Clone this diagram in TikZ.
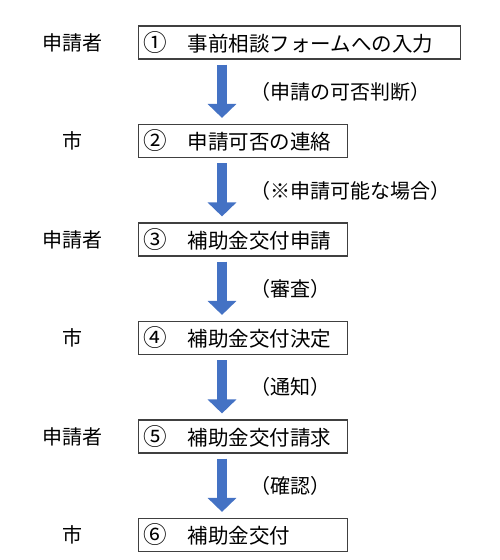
\documentclass[tikz,border=0pt]{standalone}
\usepackage{fontspec}
\newfontfamily\jpfont{Noto Sans CJK JP}
\usetikzlibrary{arrows.meta,calc}
\definecolor{flowblue}{HTML}{4472C4}
\newcommand{\stepnum}[1]{\makebox[1em]{\scalebox{1.15}{#1}}}
\tikzset{
  stepbox/.style={draw=black!75, line width=1.1bp, anchor=west, minimum height=33bp,
    inner xsep=6bp, inner ysep=0pt, align=left,
    font=\jpfont\fontsize{20.5bp}{24bp}\selectfont},
  actor/.style={font=\jpfont\fontsize{20bp}{24bp}\selectfont, inner sep=0pt},
  note/.style={font=\jpfont\fontsize{20bp}{24bp}\selectfont, inner sep=0pt, anchor=west},
  flow/.style={draw=flowblue, line width=10.5bp,
    -{Triangle[width=28bp,length=14bp]}, flowblue}
}
\begin{document}
\begin{tikzpicture}[x=1bp,y=1bp]
\useasboundingbox (0,0) rectangle (500,560);
\node[stepbox, text width=310bp] (b1) at (138,517.5) {\stepnum{①}\hspace{1.1em}事前相談フォームへの入力};
\node[stepbox, text width=197bp] (b2) at (138,419) {\stepnum{②}\hspace{1.1em}申請可否の連絡};
\node[stepbox, text width=197bp] (b3) at (138,320.5) {\stepnum{③}\hspace{1.1em}補助金交付申請};
\node[stepbox, text width=197bp] (b4) at (138,222) {\stepnum{④}\hspace{1.1em}補助金交付決定};
\node[stepbox, text width=197bp] (b5) at (138,123.5) {\stepnum{⑤}\hspace{1.1em}補助金交付請求};
\node[stepbox, text width=197bp] (b6) at (138,25) {\stepnum{⑥}\hspace{1.1em}補助金交付};
\node[actor] (a1) at (72.5,517.5) {申請者};
\node[actor] (a2) at (72.5,419) {市};
\node[actor] (a3) at (72.5,320.5) {申請者};
\node[actor] (a4) at (72.5,222) {市};
\node[actor] (a5) at (72.5,123.5) {申請者};
\node[actor] (a6) at (72.5,25) {市};
\draw[flow] ([xshift=84bp,yshift=-5bp]b1.south west) -- ([xshift=84bp,yshift=6bp]b2.north west);
\draw[flow] ([xshift=84bp,yshift=-5bp]b2.south west) -- ([xshift=84bp,yshift=6bp]b3.north west);
\draw[flow] ([xshift=84bp,yshift=-5bp]b3.south west) -- ([xshift=84bp,yshift=6bp]b4.north west);
\draw[flow] ([xshift=84bp,yshift=-5bp]b4.south west) -- ([xshift=84bp,yshift=6bp]b5.north west);
\draw[flow] ([xshift=84bp,yshift=-5bp]b5.south west) -- ([xshift=84bp,yshift=6bp]b6.north west);
\node[note] (n1) at (250,468) {（申請の可否判断）};
\node[note] (n2) at (250,369) {（※申請可能な場合）};
\node[note] (n3) at (250,271.5) {（審査）};
\node[note] (n4) at (250,173) {（通知）};
\node[note] (n5) at (250,74.5) {（確認）};
\end{tikzpicture}
\end{document}
